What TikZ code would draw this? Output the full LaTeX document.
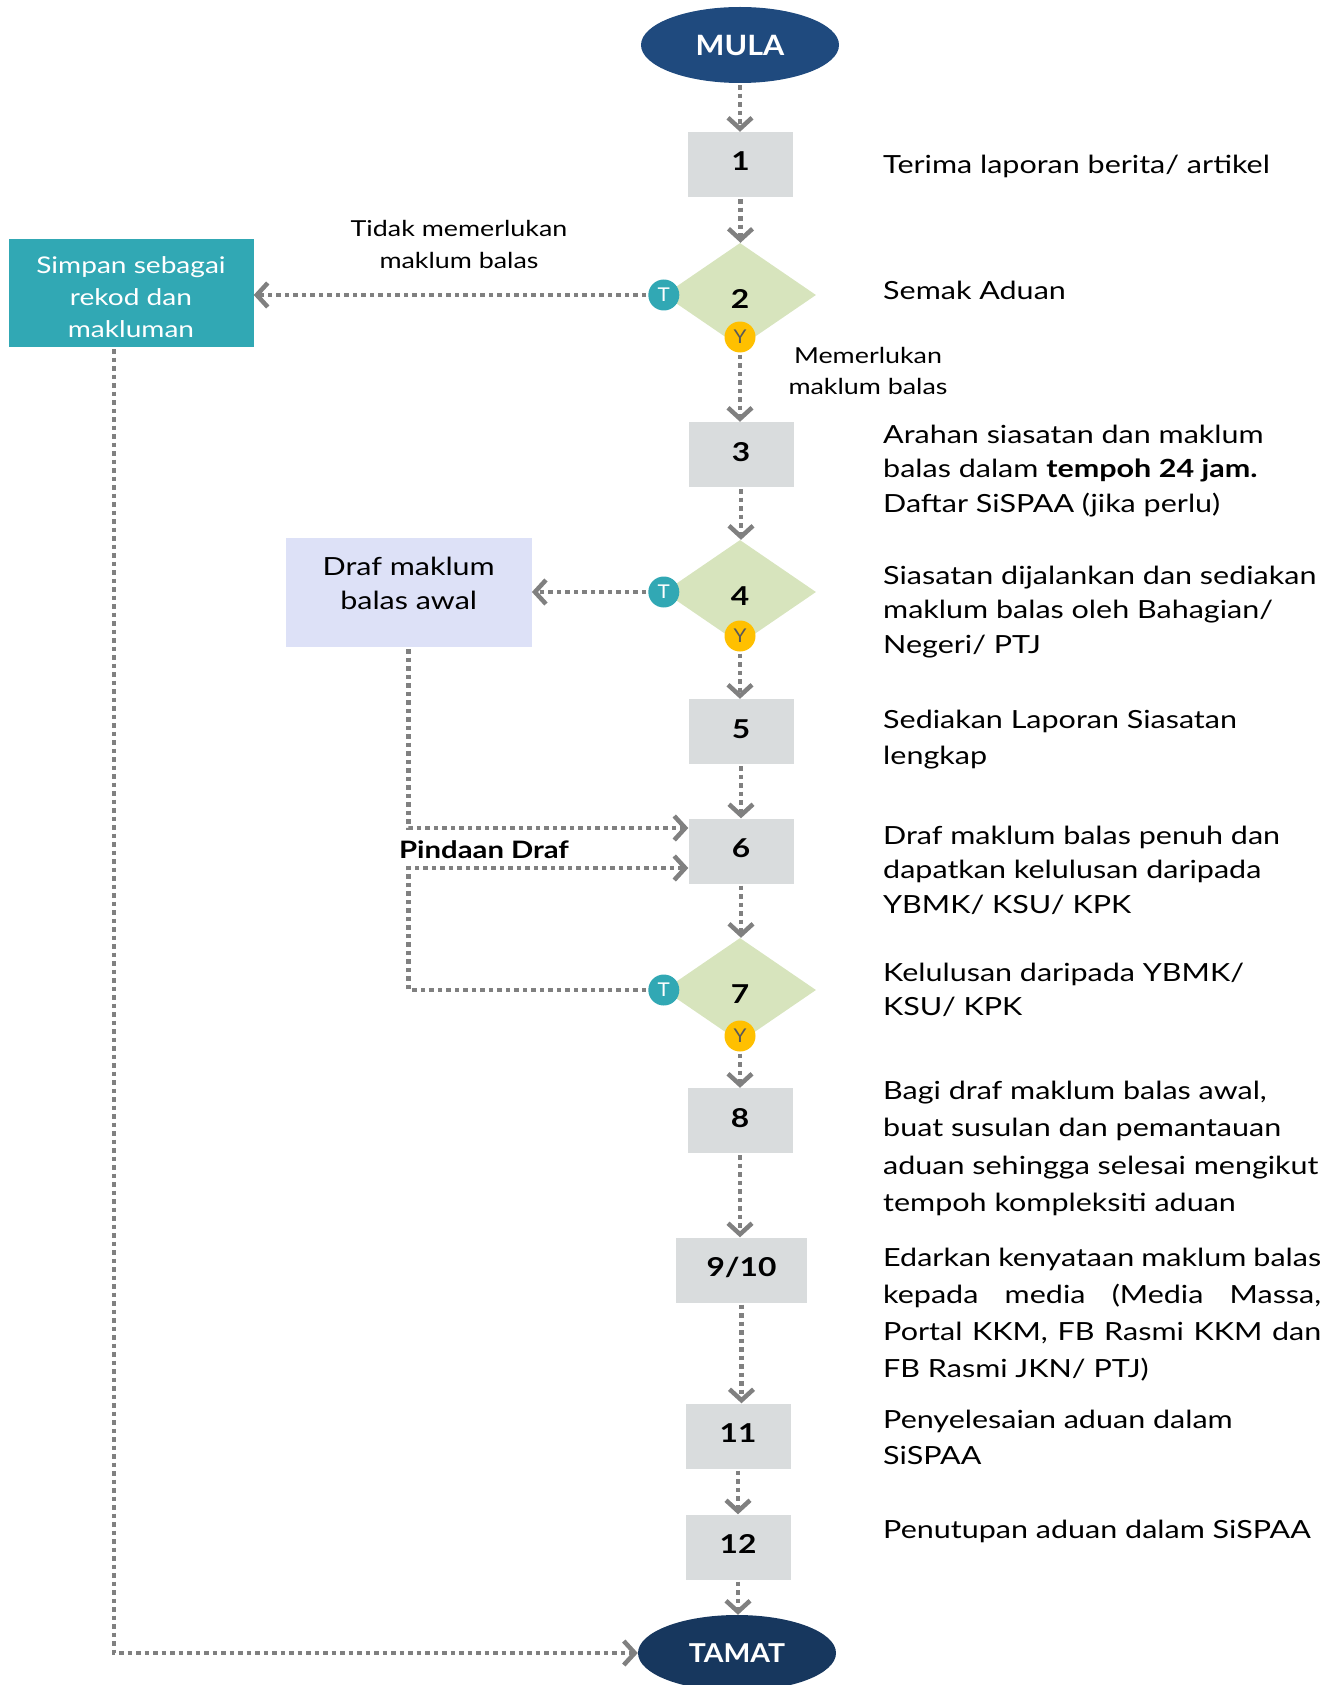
\documentclass[tikz,border=0pt]{standalone}
\usepackage{fontspec}
\setmainfont{Lato}[FakeStretch=1.22]
\newfontfamily\termfont{Lato}[FakeStretch=1.09]
\usetikzlibrary{shapes.geometric,arrows.meta,calc}

\definecolor{startblue}{HTML}{1F4A7E}
\definecolor{endblue}{HTML}{17375E}
\definecolor{stepgray}{HTML}{D9DCDD}
\definecolor{choicegreen}{HTML}{D7E4BD}
\definecolor{tealmark}{HTML}{31A8B4}
\definecolor{goldmark}{HTML}{FFC000}
\definecolor{goldtext}{HTML}{595959}
\definecolor{draftblue}{HTML}{DDE1F7}
\definecolor{linegray}{HTML}{808080}

\begin{document}
\begin{tikzpicture}[x=1pt,y=-1pt,
  terminal/.style={ellipse, minimum width=198pt, minimum height=76pt, inner sep=0pt,
    text=white, font=\termfont\fontsize{28}{28}\selectfont\bfseries},
  stepbox/.style={fill=stepgray, minimum width=105pt, minimum height=65pt, inner sep=0pt,
    text height=13pt, text depth=0pt, font=\fontsize{26}{26}\selectfont\bfseries},
  choice/.style={diamond, fill=choicegreen, minimum width=152pt, minimum height=104pt,
    inner sep=0pt, text height=27pt, text depth=0pt, font=\fontsize{26}{26}\selectfont\bfseries},
  tmark/.style={circle, fill=tealmark, minimum size=31pt, inner sep=0pt, text=white,
    font=\termfont\fontsize{19}{19}\selectfont},
  ymark/.style={circle, fill=goldmark, minimum size=31pt, inner sep=0pt, text=goldtext,
    font=\termfont\fontsize{19}{19}\selectfont},
  sidebox/.style={minimum width=246pt, minimum height=108pt, inner sep=0pt},
  boxtext/.style={anchor=base, inner sep=0pt},
  flow/.style={draw=linegray, line width=4.5pt, dash pattern=on 4.5pt off 4pt,
    shorten <=2pt, -{Straight Barb[length=11pt,width=24pt]}},
  desc/.style={anchor=base west, inner sep=0pt, font=\fontsize{25}{34.5}\selectfont},
  note/.style={anchor=base, inner sep=0pt, font=\fontsize{22}{31.5}\selectfont}
]
\useasboundingbox (0,0) rectangle (1332,1685);

% main column
\node[terminal, fill=startblue] (mula) at (740,45) {MULA};
\node[stepbox] (b1) at (740.5,164.5) {1};
\node[choice] (d2) at (740,295) {2};
\node[tmark] (t2) at (d2.west) {T};
\node[ymark] (y2) at (740,337) {Y};
\node[stepbox] (b3) at (741,454.5) {3};
\node[choice] (d4) at (740,592) {4};
\node[tmark] (t4) at (d4.west) {T};
\node[ymark] (y4) at (740,636) {Y};
\node[stepbox] (b5) at (741,731.5) {5};
\node[stepbox] (b6) at (741,851) {6};
\node[choice] (d7) at (740,990) {7};
\node[tmark] (t7) at (d7.west) {T};
\node[ymark] (y7) at (740,1036) {Y};
\node[stepbox] (b8) at (740,1120.5) {8};
\node[stepbox, minimum width=131pt] (b910) at (741.5,1270) {9/10};
\node[stepbox] (b11) at (738,1436) {11};
\node[stepbox] (b12) at (738,1547) {12};
\node[terminal, fill=endblue, font=\termfont\fontsize{26}{26}\selectfont\bfseries] (tamat) at (737,1653) {TAMAT};

% side boxes and their texts
\node[sidebox, fill=tealmark, minimum width=245pt] (simpan) at (131,293) {};
\node[boxtext, text=white, font=\fontsize{23}{32}\selectfont] (simpantext) at (simpan.center |- 0,274)
  {\parbox[t]{240pt}{\centering Simpan sebagai\\rekod dan\\makluman}};
\node[sidebox, fill=draftblue, minimum height=109pt] (draf) at (408.7,592.4) {};
\node[boxtext, font=\fontsize{25}{34.5}\selectfont] (draftext) at (draf.center |- 0,575)
  {\parbox[t]{240pt}{\centering Draf maklum\\balas awal}};

% connectors of the main column
\draw[flow] (mula.south) -- (mula.south |- b1.north);
\draw[flow] (b1.south) -- (b1.south |- d2.north);
\draw[flow] (y2.south) -- (y2.south |- b3.north);
\draw[flow] (b3.south) -- (b3.south |- d4.north);
\draw[flow] (y4.south) -- (y4.south |- b5.north);
\draw[flow] (b5.south) -- (b5.south |- b6.north);
\draw[flow] (b6.south) -- (b6.south |- d7.north);
\draw[flow] (y7.south) -- (y7.south |- b8.north);
\draw[flow] (b8.south) -- (b8.south |- b910.north);
\draw[flow] (b910.south) -- (b910.south |- b11.north);
\draw[flow] (b11.south) -- (b11.south |- b12.north);
\draw[flow] (b12.south) -- (b12.south |- tamat.north);

% branches
\draw[flow] (t2.west) -- (simpan.east |- t2.west);
\draw[flow] (t4.west) -- (draf.east |- t4.west);
\coordinate (in6a) at ($(b6.west)+(0,-23)$);
\coordinate (in6b) at ($(b6.west)+(0,17)$);
\draw[flow] (draf.south) |- (in6a);
\draw[flow] (t7.west) -- (t7.west -| draf.south) |- (in6b);
\coordinate (simpanout) at ($(simpan.south)+(-17,0)$);
\draw[flow] (simpanout) |- (tamat.west);

% branch labels
\node[note] (tidak) at (459,237) {\parbox[t]{260pt}{\centering Tidak memerlukan\\maklum balas}};
\node[note] (perlu) at (868,363) {\parbox[t]{200pt}{\centering Memerlukan\\maklum balas}};
\node[anchor=base, inner sep=0pt, font=\fontsize{24}{24}\selectfont\bfseries] (pindaan) at (484,858) {Pindaan Draf};

% step descriptions
\node[desc] (s1) at (883,174) {Terima laporan berita/ artikel};
\node[desc] (s2) at (883,300) {Semak Aduan};
\node[desc] (s3) at (883,443) {\parbox[t]{470pt}{\raggedright Arahan siasatan dan maklum\\balas dalam \textbf{tempoh 24 jam.}\\Daftar SiSPAA (jika perlu)}};
\node[desc] (s4) at (883,584) {\parbox[t]{470pt}{\raggedright Siasatan dijalankan dan sediakan\\maklum balas oleh Bahagian/\\Negeri/ PTJ}};
\node[desc, font=\fontsize{25}{36}\selectfont] (s5) at (883,728) {\parbox[t]{470pt}{\raggedright Sediakan Laporan Siasatan\\lengkap}};
\node[desc] (s6) at (883,844) {\parbox[t]{470pt}{\raggedright Draf maklum balas penuh dan\\dapatkan kelulusan daripada\\YBMK/ KSU/ KPK}};
\node[desc] (s7) at (883,981) {\parbox[t]{470pt}{\raggedright Kelulusan daripada YBMK/\\KSU/ KPK}};
\node[desc, font=\fontsize{25}{37.5}\selectfont] (s8) at (883,1099) {\parbox[t]{470pt}{\raggedright Bagi draf maklum balas awal,\\buat susulan dan pemantauan\\aduan sehingga selesai mengikut\\tempoh kompleksiti aduan}};
\node[desc, font=\fontsize{25}{37}\selectfont] (s910) at (883,1266) {\parbox[t]{470pt}{\raggedright
  \makebox[438pt][s]{Edarkan kenyataan maklum balas}\\
  \makebox[438pt][s]{kepada media (Media Massa,}\\
  \makebox[438pt][s]{Portal KKM, FB Rasmi KKM dan}\\
  FB Rasmi JKN/ PTJ)}};
\node[desc, font=\fontsize{25}{36}\selectfont] (s11) at (883,1428) {\parbox[t]{470pt}{\raggedright Penyelesaian aduan dalam\\SiSPAA}};
\node[desc] (s12) at (883,1538) {Penutupan aduan dalam SiSPAA};
\end{tikzpicture}
\end{document}
